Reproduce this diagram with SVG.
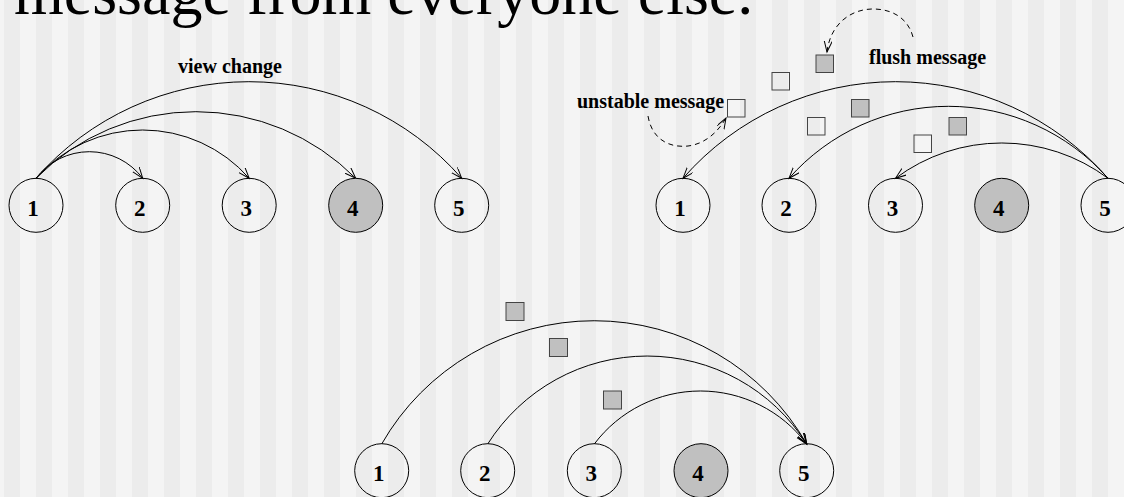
<svg xmlns="http://www.w3.org/2000/svg" width="1124" height="497" viewBox="0 0 1124 497">
<style>
.node{fill:none;stroke:#000;stroke-width:1}
.node.gray{fill:#c0c0c0}
.num{font-family:"Liberation Serif","Times New Roman",serif;font-size:23px;font-weight:bold;text-anchor:middle;fill:#000}
.lbl{font-family:"Liberation Serif","Times New Roman",serif;font-size:20px;font-weight:bold;fill:#000}
.edge{fill:none;stroke:#000;stroke-width:1;marker-end:url(#ah)}
.dash{fill:none;stroke:#000;stroke-width:1;stroke-dasharray:5 4;marker-end:url(#ah)}
.msg{stroke:#444;stroke-width:1;fill:none}
.msg.gray{fill:#c0c0c0}
</style>
<defs>
<pattern id="stripes" patternUnits="userSpaceOnUse" x="4" y="0" width="32" height="497">
<rect x="0" y="0" width="32" height="497" fill="#f4f4f4"/>
<rect x="0" y="0" width="16" height="497" fill="#ececec"/>
</pattern>
<marker id="ah" markerUnits="userSpaceOnUse" markerWidth="14" markerHeight="10" refX="11" refY="4" orient="auto">
<path d="M0,0 L11,4 L0,8" fill="none" stroke="#000" stroke-width="1"/>
</marker>
</defs>
<rect width="1124" height="497" fill="url(#stripes)"/>
<text x="14" y="14" font-family="'Liberation Serif','Times New Roman',serif" font-size="64" fill="#000">message from everyone else.</text>

<g id="connectors">
<path class="edge" d="M36,178.3 A66.8,66.8 0 0 1 142.7,178.3"/>
<path class="edge" d="M36,178.3 A141.8,141.8 0 0 1 249.2,178.3"/>
<path class="edge" d="M36,178.3 A225.1,225.1 0 0 1 355.7,178.3"/>
<path class="edge" d="M36,178.3 A282.8,282.8 0 0 1 461.7,178.3"/>
<path class="edge" d="M1108,178.3 A282,282 0 0 0 683,178.3"/>
<path class="edge" d="M1108,178.3 A212.7,212.7 0 0 0 789,178.3"/>
<path class="edge" d="M1108,178.3 A177.5,177.5 0 0 0 895.5,178.3"/>
<path class="dash" d="M913,37 C908,18 892,9 873,9 C850,9 830,25 827,52"/>
<path class="dash" d="M648,116 C652,140 670,148 688,146 C705,144 718,132 726,118"/>
<path class="edge" d="M381.7,444 A244.8,244.8 0 0 1 806.7,444"/>
<path class="edge" d="M487.7,444 A188.6,188.6 0 0 1 806.7,444"/>
<path class="edge" d="M594.3,444 A132.9,132.9 0 0 1 806.7,444"/>
</g>

<g id="labels">
<text class="lbl" x="178" y="73">view change</text>
<text class="lbl" x="869" y="63.5">flush message</text>
<text class="lbl" x="577" y="108">unstable message</text>
</g>

<g id="messages">
<rect class="msg" x="727.5" y="99.5" width="17.5" height="17.5"/>
<rect class="msg" x="772" y="72.5" width="17.5" height="17.5"/>
<rect class="msg" x="807.5" y="117.5" width="17.5" height="17.5"/>
<rect class="msg" x="914" y="135" width="17.5" height="17.5"/>
<rect class="msg gray" x="816" y="55" width="17.5" height="17.5"/>
<rect class="msg gray" x="851.5" y="99.5" width="17.5" height="17.5"/>
<rect class="msg gray" x="949" y="117.5" width="17.5" height="17.5"/>
<rect class="msg gray" x="506" y="302.5" width="18" height="18"/>
<rect class="msg gray" x="549.5" y="338.5" width="18" height="18"/>
<rect class="msg gray" x="603.5" y="391" width="18" height="18"/>
</g>

<g id="a1"><circle class="node" cx="36" cy="205.3" r="27"/><text class="num" x="33" y="215.5">1</text></g>
<g id="a2"><circle class="node" cx="142.7" cy="205.3" r="27"/><text class="num" x="139.7" y="215.5">2</text></g>
<g id="a3"><circle class="node" cx="249.2" cy="205.3" r="27"/><text class="num" x="246.2" y="215.5">3</text></g>
<g id="a4"><circle class="node gray" cx="355.7" cy="205.3" r="27"/><text class="num" x="352.7" y="215.5">4</text></g>
<g id="a5"><circle class="node" cx="461.7" cy="205.3" r="27"/><text class="num" x="458.7" y="215.5">5</text></g>

<g id="b1"><circle class="node" cx="683" cy="205.3" r="27"/><text class="num" x="680" y="215.5">1</text></g>
<g id="b2"><circle class="node" cx="789" cy="205.3" r="27"/><text class="num" x="786" y="215.5">2</text></g>
<g id="b3"><circle class="node" cx="895.5" cy="205.3" r="27"/><text class="num" x="892.5" y="215.5">3</text></g>
<g id="b4"><circle class="node gray" cx="1001.7" cy="205.3" r="27"/><text class="num" x="998.7" y="215.5">4</text></g>
<g id="b5"><circle class="node" cx="1108" cy="205.3" r="27"/><text class="num" x="1105" y="215.5">5</text></g>

<g id="c1"><circle class="node" cx="381.7" cy="470.7" r="27"/><text class="num" x="378.7" y="480.8">1</text></g>
<g id="c2"><circle class="node" cx="487.7" cy="470.7" r="27"/><text class="num" x="484.7" y="480.8">2</text></g>
<g id="c3"><circle class="node" cx="594.3" cy="470.7" r="27"/><text class="num" x="591.3" y="480.8">3</text></g>
<g id="c4"><circle class="node gray" cx="701" cy="470.7" r="27"/><text class="num" x="698" y="480.8">4</text></g>
<g id="c5"><circle class="node" cx="806.7" cy="470.7" r="27"/><text class="num" x="803.7" y="480.8">5</text></g>
</svg>
